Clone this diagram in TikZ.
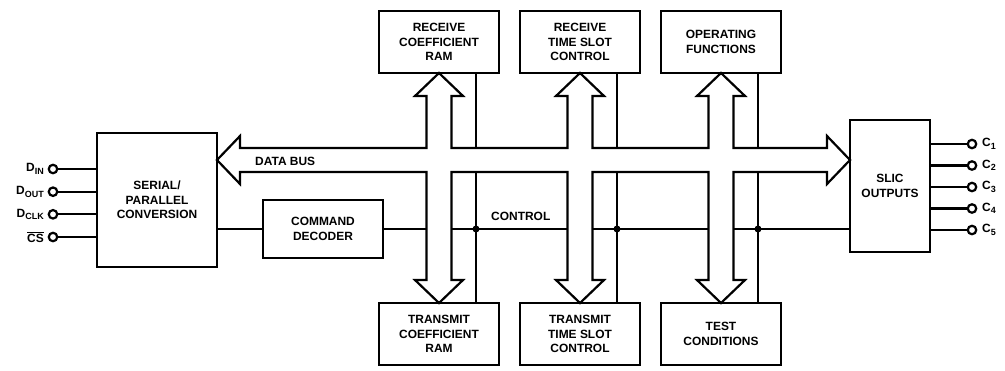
\documentclass[tikz,border=0pt]{standalone}
\usepackage{fontspec}
\setmainfont{Liberation Sans}
\newcommand\pinsub[1]{\raisebox{-0.4ex}{\fontsize{9}{9}\selectfont #1}}
\begin{document}
\begin{tikzpicture}[x=1bp,y=-1bp,
  box/.style={draw,line width=2.8bp,minimum width=120bp,minimum height=62bp,inner sep=0pt,align=center,
    font=\bfseries\fontsize{12}{14.5}\selectfont},
  wire/.style={line width=2.2bp},
  pin/.style={circle,draw,line width=2.2bp,fill=white,inner sep=0pt,minimum size=8.5bp},
  lbl/.style={font=\bfseries\fontsize{12}{13}\selectfont,inner sep=0pt},
  jdot/.style={circle,fill=black,inner sep=0pt,minimum size=7bp}]
\useasboundingbox (0,0) rectangle (1005,370);

% blocks
\node[box,minimum height=134bp] (sp) at (157,200) {SERIAL/\\PARALLEL\\CONVERSION};
\node[box,minimum height=58bp] (cmd) at (323,229) {COMMAND\\DECODER};
\node[box] (rcr) at (439,42) {RECEIVE\\COEFFICIENT\\RAM};
\node[box] (rts) at (580,42) {RECEIVE\\TIME SLOT\\CONTROL};
\node[box] (opf) at (721,42) {OPERATING\\FUNCTIONS};
\node[box] (tcr) at (439,334) {TRANSMIT\\COEFFICIENT\\RAM};
\node[box] (tts) at (580,334) {TRANSMIT\\TIME SLOT\\CONTROL};
\node[box] (tst) at (721,334) {TEST\\CONDITIONS};
\node[box,minimum width=80bp,minimum height=132bp] (slic) at (890,186) {SLIC\\OUTPUTS};

% left pins
\node[pin] (pdin) at (53,169) {};
\node[pin] (pdout) at (53,191.7) {};
\node[pin] (pdclk) at (53,214.3) {};
\node[pin] (pcs) at (53,237) {};
\node[lbl,anchor=east] (ldin) at (44,169) {D\pinsub{IN}};
\node[lbl,anchor=east] (ldout) at (44,191.7) {D\pinsub{OUT}};
\node[lbl,anchor=east] (ldclk) at (44,214.3) {D\pinsub{CLK}};
\node[lbl,anchor=east] (lcs) at (44,237) {$\overline{\mbox{CS}}$};
\foreach \p in {pdin,pdout,pdclk,pcs}
  \draw[wire] (\p) -- (\p -| sp.west);

% right pins
\foreach \i/\y in {1/144,2/165.5,3/187,4/208.5,5/230}{
  \node[pin] (c\i) at (972,\y) {};
  \node[lbl,anchor=west] (lc\i) at (982,\y) {C\pinsub{\i}};
  \draw[wire] (c\i) -- (c\i -| slic.east);
}

% data bus with branch arrows
\draw[wire,line join=miter] (217,160) -- (240,136) -- (240,148)
 -- (426.5,148) -- (426.5,96) -- (415,96) -- (439,73) -- (463,96) -- (451.5,96) -- (451.5,148)
 -- (567.5,148) -- (567.5,96) -- (556,96) -- (580,73) -- (604,96) -- (592.5,96) -- (592.5,148)
 -- (708.5,148) -- (708.5,96) -- (697,96) -- (721,73) -- (745,96) -- (733.5,96) -- (733.5,148)
 -- (827,148) -- (827,136) -- (850,160) -- (827,184) -- (827,172)
 -- (733.5,172) -- (733.5,280) -- (745,280) -- (721,303) -- (697,280) -- (708.5,280) -- (708.5,172)
 -- (592.5,172) -- (592.5,280) -- (604,280) -- (580,303) -- (556,280) -- (567.5,280) -- (567.5,172)
 -- (451.5,172) -- (451.5,280) -- (463,280) -- (439,303) -- (415,280) -- (426.5,280) -- (426.5,172)
 -- (240,172) -- (240,184) -- cycle;
\node[lbl,anchor=west] (dbus) at (255,161) {DATA BUS};

% control lines
\coordinate (bt) at (0,148);
\coordinate (bb) at (0,172);
\coordinate (k1) at (476,229);
\coordinate (k2) at (617,229);
\coordinate (k3) at (758,229);
\draw[wire] (cmd.west -| sp.east) -- (cmd.west);
\draw[wire] (cmd.east) -- (426.5,229);
\draw[wire] (451.5,229) -- (567.5,229);
\draw[wire] (592.5,229) -- (708.5,229);
\draw[wire] (733.5,229) -- (k3 -| slic.west);
\draw[wire] (k1 |- rcr.south) -- (k1 |- bt);
\draw[wire] (k1 |- bb) -- (k1 |- tcr.north);
\draw[wire] (k2 |- rts.south) -- (k2 |- bt);
\draw[wire] (k2 |- bb) -- (k2 |- tts.north);
\draw[wire] (k3 |- opf.south) -- (k3 |- bt);
\draw[wire] (k3 |- bb) -- (k3 |- tst.north);
\node[jdot] (j1) at (k1) {};
\node[jdot] (j2) at (k2) {};
\node[jdot] (j3) at (k3) {};
\node[lbl,anchor=base west] (ctl) at (491,220) {CONTROL};
\end{tikzpicture}
\end{document}
